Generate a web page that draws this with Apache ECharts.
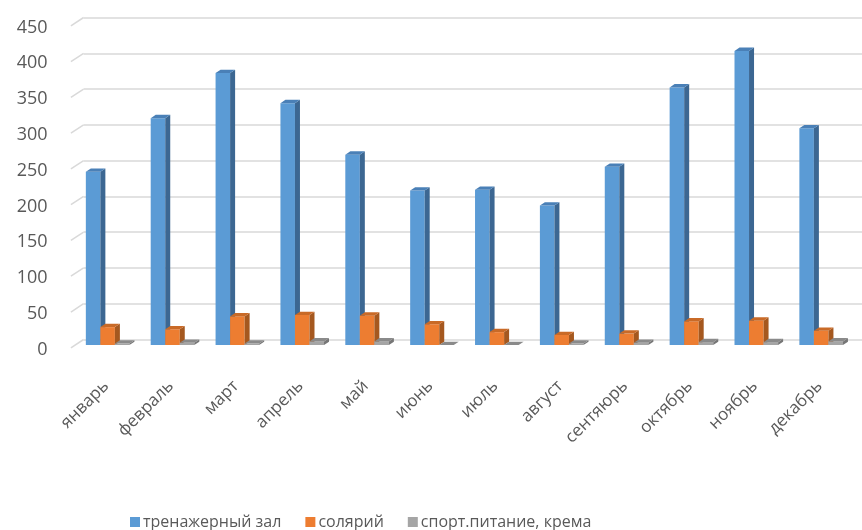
<!DOCTYPE html>
<html>
<head>
<meta charset="utf-8">
<script src="https://cdn.jsdelivr.net/npm/echarts@6/dist/echarts.min.js"></script>
<style>
  html, body { margin: 0; padding: 0; background: #fff; }
  #chart { width: 862px; height: 530px; }
</style>
</head>
<body>
<div id="chart"></div>
<script>
var months = ['январь', 'февраль', 'март', 'апрель', 'май', 'июнь',
  'июль', 'август', 'сентяюрь', 'октябрь', 'ноябрь', 'декабрь'];
var seriesNames = ['тренажерный зал', 'солярий', 'спорт.питание, крема'];
var gym = [242, 317, 380, 338, 266, 216, 217, 195, 249, 360, 411, 303];
var solarium = [25, 22, 40, 42, 41, 29, 18, 14, 16, 33, 34, 20];
var nutrition = [2, 3, 2, 5, 5, 0, 0, 2, 3, 4, 4, 5];
var yTicks = [0, 50, 100, 150, 200, 250, 300, 350, 400, 450];

// front / side / top colours
var faces = [
  ['#5B9BD5', '#3C6792', '#4A80B7'],
  ['#ED7D31', '#A5581F', '#C96A27'],
  ['#A5A5A5', '#767676', '#8A8A8A']
];

// depth offsets of the fake 3d
var frontDx = -8.4, frontDy = 5.5;
var depthDx = 5, depthDy = 3.3;

function barRenderer(k) {
  return function (params, api) {
    var idx = api.value(0);
    var v = api.value(1);
    var top = api.coord([idx, v]);
    var base = api.coord([idx, 0]);
    var band = api.size([1, 0])[0];
    var w = band * 0.224;
    var x0 = top[0] - 1.5 * w + k * w + frontDx;
    var x1 = x0 + w;
    var y0 = top[1] + frontDy;
    var yb = base[1] + frontDy;
    var c = faces[k];
    return {
      type: 'group',
      children: [
        { type: 'polygon', shape: { points: [[x0, yb], [x0, y0], [x1, y0], [x1, yb]] }, style: { fill: c[0] } },
        { type: 'polygon', shape: { points: [[x1, y0], [x1 + depthDx, y0 - depthDy], [x1 + depthDx, yb - depthDy], [x1, yb]] }, style: { fill: c[1] } },
        { type: 'polygon', shape: { points: [[x0, y0], [x0 + depthDx, y0 - depthDy], [x1 + depthDx, y0 - depthDy], [x1, y0]] }, style: { fill: c[2] } }
      ]
    };
  };
}

// slanted stubs of the gridlines on the left
function stubRenderer(params, api) {
  var cs = params.coordSys;
  var y = api.coord([0, api.value(1)])[1];
  return {
    type: 'line',
    shape: { x1: cs.x - 12.7, y1: y + 8.3, x2: cs.x, y2: y },
    style: { stroke: '#d9d9d9', lineWidth: 1.5 }
  };
}

var allData = [gym, solarium, nutrition];
var series = [{
  type: 'custom',
  silent: true,
  renderItem: stubRenderer,
  data: yTicks.map(function (t) { return [0, t]; }),
  encode: { x: 0, y: 1 },
  clip: false,
  z: 1
}];
allData.forEach(function (arr, k) {
  series.push({
    type: 'custom',
    name: seriesNames[k],
    renderItem: barRenderer(k),
    itemStyle: { color: faces[k][0] },
    data: arr.map(function (v, i) { return [i, v]; }),
    encode: { x: 0, y: 1 },
    clip: false,
    z: 2
  });
});

var chart = echarts.init(document.getElementById('chart'), null, { renderer: 'canvas' });
chart.setOption({
  backgroundColor: '#ffffff',
  animation: false,
  textStyle: { fontFamily: 'Open Sans' },
  grid: { left: 83.6, top: 17.5, width: 787.2, height: 322 },
  legend: {
    data: seriesNames,
    left: 125,
    top: 509,
    icon: 'rect',
    itemWidth: 10,
    itemHeight: 10,
    itemGap: 24,
    textStyle: { fontSize: 16, color: '#595959', fontFamily: 'Open Sans', padding: [0, 0, 0, -2] }
  },
  xAxis: {
    type: 'category',
    data: months,
    axisLine: { show: false },
    axisTick: { show: false },
    splitLine: { show: false },
    axisLabel: {
      rotate: 45,
      interval: 0,
      margin: 34,
      padding: [0, 14, 0, 0],
      fontSize: 17,
      color: '#595959',
      fontFamily: 'Open Sans'
    }
  },
  yAxis: {
    type: 'value',
    min: 0,
    max: 450,
    interval: 50,
    axisLine: { show: false },
    axisTick: { show: false },
    splitLine: { lineStyle: { color: '#d9d9d9', width: 1.5 } },
    axisLabel: {
      margin: 36,
      verticalAlign: 'top',
      padding: [1, 0, 0, 0],
      fontSize: 18,
      color: '#595959',
      fontFamily: 'Open Sans'
    }
  },
  series: series
});
</script>
</body>
</html>
